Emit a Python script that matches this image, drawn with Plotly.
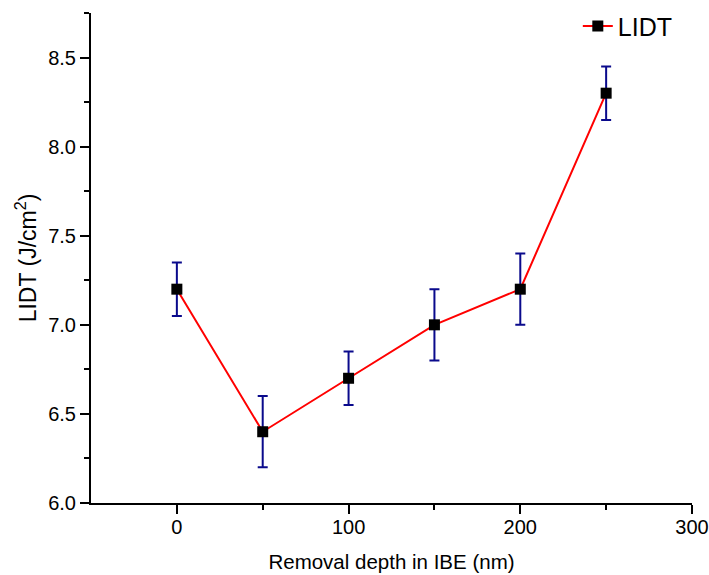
import plotly.graph_objects as go

depth = [0, 50, 100, 150, 200, 250]
lidt = [7.2, 6.4, 6.7, 7.0, 7.2, 8.3]
err = [0.15, 0.2, 0.15, 0.2, 0.2, 0.15]

fig = go.Figure()
fig.add_trace(go.Scatter(
    x=depth, y=lidt, name="LIDT", mode="lines+markers",
    line=dict(color="#FF0000", width=2),
    marker=dict(symbol="square", size=11, color="black"),
    error_y=dict(type="data", array=err, visible=True, color="#0A0A8C", thickness=2, width=5),
))

font = "Liberation Sans, Arial, sans-serif"
axis_common = dict(
    showline=True, linecolor="black", linewidth=2, showgrid=False, zeroline=False,
    ticks="outside", ticklen=9, tickwidth=2, tickcolor="black",
    tickfont=dict(family=font, size=20, color="black"), automargin=False,
)
fig.update_xaxes(range=[-50, 300], tickvals=[0, 100, 200, 300],
                 minor=dict(tickvals=[50, 150, 250], ticks="outside", ticklen=5, tickwidth=2, tickcolor="black"),
                 ticklabelstandoff=-4,
                 title=dict(text="Removal depth in IBE (nm)", font=dict(family=font, size=20.5, color="black"), standoff=18),
                 **axis_common)
fig.update_yaxes(range=[6.0, 8.75], tickvals=[6.0, 6.5, 7.0, 7.5, 8.0, 8.5], tickformat=".1f",
                 minor=dict(tickvals=[6.25, 6.75, 7.25, 7.75, 8.25, 8.75], ticks="outside", ticklen=5, tickwidth=2, tickcolor="black"),
                 title=dict(text="LIDT (J/cm<sup>2</sup>)", font=dict(family=font, size=23, color="black"), standoff=5),
                 **axis_common)
fig.update_layout(
    width=709, height=575,
    margin=dict(l=91, r=17, t=13, b=72, autoexpand=False),
    plot_bgcolor="white", paper_bgcolor="white",
    showlegend=True,
    legend=dict(x=0.81, y=1.02, xanchor="left", yanchor="top", bgcolor="rgba(0,0,0,0)",
                font=dict(family=font, size=25, color="black")),
)
fig.write_html("out.html")
